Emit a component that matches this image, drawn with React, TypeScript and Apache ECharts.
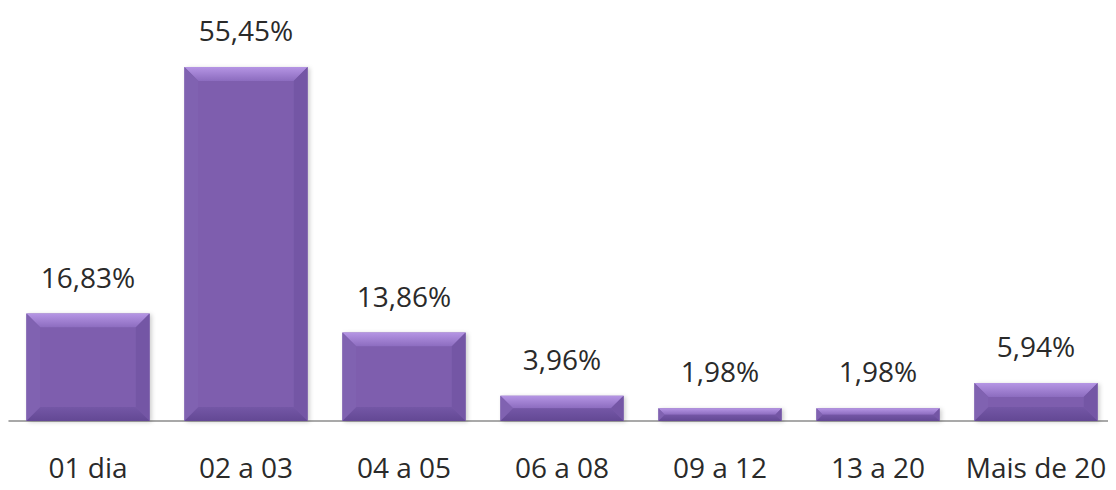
import React, { useEffect, useRef } from "react";
import * as echarts from "echarts";

const categories = ["01 dia", "02 a 03", "04 a 05", "06 a 08", "09 a 12", "13 a 20", "Mais de 20"];
const values = [16.83, 55.45, 13.86, 3.96, 1.98, 1.98, 5.94];

const FONT = "'Open Sans', sans-serif";
const BAR_RATIO = 0.78;

export default function App() {
  const ref = useRef<HTMLDivElement>(null);
  useEffect(() => {
    if (!ref.current) return;
    const chart = echarts.init(ref.current, undefined, { renderer: "svg" });
    chart.setOption({
      animation: false,
      grid: { left: 9, right: 1, top: 67, bottom: 69, containLabel: false },
      xAxis: {
        type: "category",
        data: categories,
        axisTick: { show: false },
        axisLine: { show: true, lineStyle: { color: "#8c8c8c", width: 1.5 } },
        axisLabel: { color: "#2a2a2a", fontFamily: FONT, fontSize: 28, margin: 32, interval: 0 },
      },
      yAxis: { type: "value", min: 0, max: 55.45, show: false, splitLine: { show: false } },
      series: [
        {
          type: "bar",
          data: values,
          barWidth: BAR_RATIO * 100 + "%",
          itemStyle: {
            color: "#7e5eae",
            shadowColor: "rgba(0,0,0,0.2)",
            shadowBlur: 4,
            shadowOffsetX: 2,
            shadowOffsetY: 1,
          },
          label: {
            show: true,
            position: "top",
            distance: 23,
            color: "#2a2a2a",
            fontFamily: FONT,
            fontSize: 28,
            formatter: (p: any) => p.value.toFixed(2).replace(".", ",") + "%",
          },
          z: 2,
        },
        {
          type: "custom",
          data: values.map((v, i) => [i, v]),
          z: 3,
          silent: true,
          renderItem: (params: any, api: any) => {
            const i = api.value(0);
            const v = api.value(1);
            const top = api.coord([i, v]);
            const base = api.coord([i, 0]);
            const w = api.size([1, 0])[0] * BAR_RATIO;
            const x0 = top[0] - w / 2;
            const x1 = top[0] + w / 2;
            const y0 = top[1];
            const y1 = base[1];
            const h = y1 - y0;
            const b = Math.min(14, h / 2);
            const ix0 = x0 + b, ix1 = x1 - b, iy0 = y0 + b, iy1 = y1 - b;
            return {
              type: "group",
              children: [
                {
                  type: "polygon",
                  shape: { points: [[x0, y0], [x1, y0], [ix1, iy0], [ix0, iy0]] },
                  style: {
                    fill: new echarts.graphic.LinearGradient(0, 0, 0, 1, [
                      { offset: 0, color: "#b595e4" },
                      { offset: 1, color: "#8c6cbf" },
                    ]),
                  },
                },
                {
                  type: "polygon",
                  shape: { points: [[x0, y0], [ix0, iy0], [ix0, iy1], [x0, y1]] },
                  style: { fill: "#8062b1" },
                },
                {
                  type: "polygon",
                  shape: { points: [[x1, y0], [x1, y1], [ix1, iy1], [ix1, iy0]] },
                  style: { fill: "#7456a5" },
                },
                {
                  type: "polygon",
                  shape: { points: [[x0, y1], [ix0, iy1], [ix1, iy1], [x1, y1]] },
                  style: {
                    fill: new echarts.graphic.LinearGradient(0, 0, 0, 1, [
                      { offset: 0, color: "#7457a6" },
                      { offset: 1, color: "#634894" },
                    ]),
                  },
                },
                {
                  type: "rect",
                  shape: { x: ix0, y: iy0, width: Math.max(0, ix1 - ix0), height: Math.max(0, iy1 - iy0) },
                  style: { fill: "#7e5eae" },
                },
              ],
            };
          },
        },
      ],
    });
    return () => chart.dispose();
  }, []);
  return <div ref={ref} style={{ width: 1116, height: 490, margin: -8 }} />;
}
